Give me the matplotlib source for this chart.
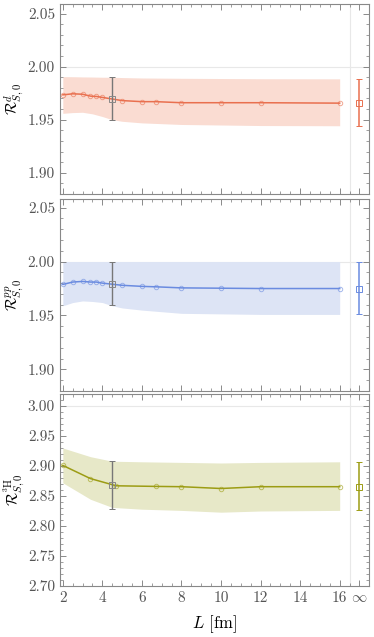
import numpy as np
from matplotlib import pyplot as plt
from matplotlib.ticker import MultipleLocator

plt.rcParams['font.family'] = 'cmr10'
plt.rcParams['mathtext.fontset'] = 'cm'
plt.rcParams['axes.formatter.use_mathtext'] = True

# deuteron
L_d = [2, 2.5, 3, 3.4, 3.7, 4, 5, 6, 6.7, 8, 10, 12, 16]
R_d = [1.9734, 1.9744, 1.9740, 1.9722, 1.9719, 1.9710, 1.9680, 1.9670, 1.9670, 1.9660, 1.9660, 1.9660, 1.9656]
band_L_d = [2, 2.5, 3, 3.5, 4, 4.5, 5, 6, 8, 10, 12, 16]
band_hi_d = [1.9906, 1.9905, 1.9903, 1.9902, 1.9900, 1.9900, 1.9897, 1.9893, 1.9890, 1.9888, 1.9886, 1.9885]
band_lo_d = [1.9560, 1.9567, 1.9570, 1.9555, 1.9530, 1.9500, 1.9485, 1.9470, 1.9455, 1.9450, 1.9445, 1.9443]
fit_d = (1.9694, 1.950, 1.990)
inf_d = (1.9653, 1.944, 1.988)

# pp
L_pp = [2, 2.5, 3, 3.4, 3.7, 4, 5, 6, 6.7, 8, 10, 12, 16]
R_pp = [1.9788, 1.9810, 1.9816, 1.9810, 1.9810, 1.9800, 1.9780, 1.9770, 1.9766, 1.9756, 1.9753, 1.9750, 1.9750]
band_L_pp = [2, 2.5, 3, 3.5, 4, 4.5, 5, 6, 8, 10, 12, 16]
band_hi_pp = [2.000] * 12
band_lo_pp = [1.9590, 1.9620, 1.9635, 1.9630, 1.9620, 1.9590, 1.9570, 1.9550, 1.9520, 1.9515, 1.9510, 1.9510]
fit_pp = (1.9790, 1.960, 2.000)
inf_pp = (1.9750, 1.951, 2.000)

# 3H
L_3H = [2, 3.4, 4.7, 6.7, 8, 10, 12, 16]
R_3H = [2.901, 2.879, 2.867, 2.866, 2.8655, 2.8625, 2.8655, 2.8655]
band_L_3H = [2, 3.4, 4.5, 6, 8, 10, 12, 16]
band_hi_3H = [2.930, 2.9155, 2.908, 2.907, 2.906, 2.905, 2.906, 2.907]
band_lo_3H = [2.872, 2.8445, 2.831, 2.828, 2.826, 2.823, 2.825, 2.826]
fit_3H = (2.868, 2.829, 2.909)
inf_3H = (2.8655, 2.826, 2.907)

x_ticks = [2, 4, 6, 8, 10, 12, 14, 16, 17]
x_labels = ['2', '4', '6', '8', '10', '12', '14', '16', r'$\infty$']

panels = [
    dict(L=L_d, R=R_d, bL=band_L_d, hi=band_hi_d, lo=band_lo_d, fit=fit_d, inf=inf_d,
         color='#e9704f', band='#fadcd2', ylim=(1.880, 2.059), ref=2.00,
         yticks=[1.90, 1.95, 2.00, 2.05], label=r'$\mathcal{R}^{d}_{S,0}$',
         pos=[0.160, 1 - 194 / 637, 0.826, 190 / 637]),
    dict(L=L_pp, R=R_pp, bL=band_L_pp, hi=band_hi_pp, lo=band_lo_pp, fit=fit_pp, inf=inf_pp,
         color='#6a8be0', band='#dde4f5', ylim=(1.880, 2.058), ref=2.00,
         yticks=[1.90, 1.95, 2.00, 2.05], label=r'$\mathcal{R}^{pp}_{S,0}$',
         pos=[0.160, 1 - 391 / 637, 0.826, 192 / 637]),
    dict(L=L_3H, R=R_3H, bL=band_L_3H, hi=band_hi_3H, lo=band_lo_3H, fit=fit_3H, inf=inf_3H,
         color='#9c9c14', band='#e7e8c8', ylim=(2.70, 3.02), ref=3.00,
         yticks=[2.70, 2.75, 2.80, 2.85, 2.90, 2.95, 3.00], label=r'$\mathcal{R}^{^{3}\mathrm{H}}_{S,0}$',
         pos=[0.160, 1 - 586 / 637, 0.826, 192 / 637]),
]

fig = plt.figure(figsize=(3.74, 6.37), dpi=100)

for i, p in enumerate(panels):
    ax = fig.add_axes(p['pos'])
    ax.axhline(p['ref'], color='#e8e8e8', lw=0.8, zorder=0)
    ax.axvline(16.5, color='#e8e8e8', lw=0.8, zorder=0)
    ax.fill_between(p['bL'], p['lo'], p['hi'], color=p['band'], lw=0, zorder=1)
    ax.plot(p['L'], p['R'], color=p['color'], lw=1.1, zorder=2)
    ax.plot(p['L'], p['R'], 'o', mfc='none', mec=p['color'], ms=3.2, mew=0.7, alpha=0.6, zorder=3)
    y, lo, hi = p['fit']
    ax.errorbar([4.5], [y], yerr=[[y - lo], [hi - y]], fmt='s', mfc='none', mec='#888888',
                ms=4.5, mew=0.7, ecolor='#777777', elinewidth=1.0, capsize=2, capthick=1.0, zorder=4)
    y, lo, hi = p['inf']
    ax.errorbar([17], [y], yerr=[[y - lo], [hi - y]], fmt='s', mfc='none', mec=p['color'],
                ms=4.5, mew=0.7, ecolor=p['color'], elinewidth=1.1, capsize=2, capthick=1.0, zorder=4)

    ax.set_xlim(1.85, 17.47)
    ax.set_ylim(*p['ylim'])
    ax.set_yticks(p['yticks'])
    ax.set_yticklabels(['%.2f' % v for v in p['yticks']])
    ax.yaxis.set_minor_locator(MultipleLocator(0.01))
    ax.set_xticks(x_ticks)
    ax.xaxis.set_minor_locator(MultipleLocator(0.5))
    if i == 2:
        ax.set_xticklabels(x_labels)
        ax.set_xlabel(r'$L$ [fm]', fontsize=12, labelpad=6)
    else:
        ax.set_xticklabels([])
    ax.tick_params(which='both', direction='in', top=True, right=True, colors='#777777',
                   labelcolor='#555555', labelsize=11)
    ax.tick_params(which='major', length=4, width=0.6)
    ax.tick_params(which='minor', length=2, width=0.5)
    for s in ax.spines.values():
        s.set_color('#888888')
        s.set_linewidth(0.8)
    ax.set_ylabel(p['label'], fontsize=11)
    ax.yaxis.set_label_coords(-0.11, 0.5)

fig.savefig('out.png', dpi=100)
